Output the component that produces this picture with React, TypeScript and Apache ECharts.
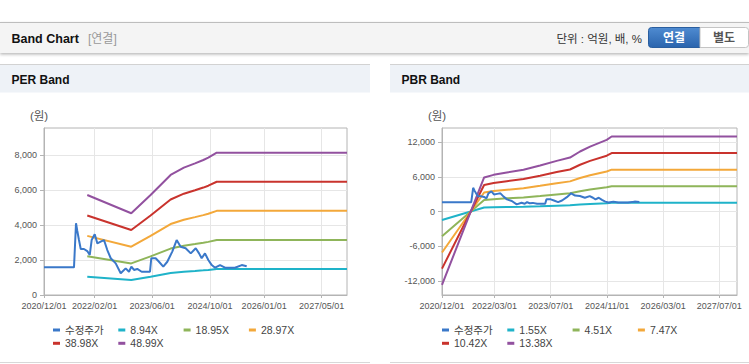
import React, { useEffect, useRef } from 'react';
import * as echarts from 'echarts';

const FONT = "'Liberation Sans', 'Noto Sans CJK KR', sans-serif";

// ---- data ----
const priceDates = [
  '2020-12-01', '2021-08-11', '2021-08-28', '2021-09-08', '2021-09-22', '2021-10-07', '2021-11-03',
  '2021-12-01', '2021-12-22', '2022-01-07', '2022-02-02', '2022-02-24', '2022-03-24', '2022-04-21',
  '2022-05-19', '2022-06-17', '2022-07-29', '2022-09-09', '2022-10-21', '2022-11-18', '2022-12-08',
  '2022-12-30', '2023-01-27', '2023-03-05', '2023-05-14', '2023-05-25', '2023-07-01', '2023-07-29',
  '2023-09-03', '2023-10-07', '2023-11-18', '2023-12-25', '2024-01-28', '2024-03-10', '2024-04-22',
  '2024-06-03', '2024-07-01', '2024-07-23', '2024-08-20', '2024-09-17', '2024-10-16', '2024-11-13',
  '2024-12-25', '2025-02-05', '2025-04-30', '2025-06-26', '2025-08-07',
];
const priceValues = [
  1580, 1580, 4100, 3660, 3140, 2630, 2630,
  2510, 2290, 3140, 3470, 2950, 3050, 3140,
  2570, 2100, 1810, 1240, 1520, 1330, 1620,
  1430, 1490, 1330, 1330, 2100, 2100, 1900,
  1620, 1900, 2480, 3140, 2760, 2670, 2380,
  2670, 2380, 2100, 2380, 2000, 1710, 1560,
  1710, 1560, 1560, 1710, 1640,
];

const perBandDates = [
  '2021-12-01', '2022-12-07', '2023-05-19', '2023-11-04', '2024-02-24',
  '2024-05-28', '2024-08-06', '2024-09-17', '2024-11-27', '2027-12-01',
];
const per894 = [1042, 852, 1042, 1252, 1328, 1373, 1408, 1432, 1484, 1484];
const per1895 = [2210, 1806, 2210, 2653, 2814, 2911, 2985, 3036, 3146, 3146];
const per2897 = [3378, 2761, 3378, 4056, 4302, 4450, 4563, 4641, 4809, 4809];
const per3898 = [4545, 3715, 4545, 5457, 5789, 5987, 6139, 6245, 6471, 6471];
const per4899 = [5712, 4669, 5712, 6859, 7275, 7525, 7716, 7848, 8132, 8132];

const pbrBandDates = [
  '2020-12-01', '2021-12-01', '2022-02-21', '2022-06-16', '2022-11-07', '2023-03-31', '2023-08-22',
  '2023-12-15', '2024-03-11', '2024-06-06', '2024-10-28', '2024-12-10', '2027-12-01',
];
const pbr155 = [-1470, 682, 735, 781, 835, 922, 1015, 1082, 1203, 1302, 1437, 1504, 1504];
const pbr451 = [-4279, 1984, 2138, 2273, 2431, 2683, 2954, 3148, 3500, 3788, 4181, 4375, 4375];
const pbr747 = [-7087, 3287, 3541, 3765, 4026, 4445, 4893, 5214, 5797, 6275, 6925, 7246, 7246];
const pbr1042 = [-9885, 4585, 4939, 5252, 5616, 6200, 6825, 7273, 8086, 8753, 9659, 10107, 10107];
const pbr1338 = [-12694, 5887, 6342, 6744, 7212, 7961, 8764, 9339, 10383, 11239, 12403, 12979, 12979];

const priceName = '수정주가';
const perNames = ['8.94X', '18.95X', '28.97X', '38.98X', '48.99X'];
const pbrNames = ['1.55X', '4.51X', '7.47X', '10.42X', '13.38X'];

const perXTicks = ['2020-12-01', '2022-02-01', '2023-06-01', '2024-10-01', '2026-01-01', '2027-05-01'];
const pbrXTicks = ['2020-12-01', '2022-03-01', '2023-07-01', '2024-11-01', '2026-03-01', '2027-07-01'];
const perYTicks = [0, 2000, 4000, 6000, 8000];
const pbrYTicks = [-12000, -6000, 0, 6000, 12000];
const xStart = '2020-12-01';
const xEnd = '2027-12-01';

const PRICE_COLOR = '#3a78c9';
const BAND_COLORS = ['#1fb3c9', '#8fb55a', '#f3a83a', '#c9332d', '#92519f'];

const ts = (s: string) => {
  const [y, m, d] = s.split('-').map(Number);
  return new Date(y, m - 1, d).getTime();
};
const pad = (n: number) => String(n).padStart(2, '0');
const fmtDate = (v: number) => {
  const d = new Date(v);
  return `${d.getFullYear()}/${pad(d.getMonth() + 1)}/${pad(d.getDate())}`;
};
const fmtNum = (v: number) => Number(v).toLocaleString('en-US');

const mkLine = (name: string, dates: string[], values: number[], color: string, idx: number, z = 2) => ({
  type: 'line',
  name,
  xAxisIndex: idx,
  yAxisIndex: idx,
  data: dates.map((d, i) => [ts(d), values[i]]),
  symbol: 'none',
  showSymbol: false,
  color,
  lineStyle: { color, width: 2 },
  z,
  silent: true,
});

const mkX = (idx: number, ticks: string[]) => ({
  type: 'value',
  gridIndex: idx,
  min: ts(xStart),
  max: ts(xEnd),
  axisLine: { show: true, onZero: false, lineStyle: { color: '#b4b4b4' } },
  axisTick: { show: true, length: 3, lineStyle: { color: '#b4b4b4' }, customValues: ticks.map(ts) },
  axisLabel: {
    customValues: ticks.map(ts),
    formatter: (v: number) => fmtDate(v),
    fontSize: 9,
    color: '#555',
    margin: 6,
    fontFamily: FONT,
    hideOverlap: false,
  },
  splitLine: { show: true, lineStyle: { color: '#e6e6e6', width: 1 } },
});

const mkY = (idx: number, min: number, max: number, ticks: number[]) => ({
  type: 'value',
  gridIndex: idx,
  min,
  max,
  name: '(원)',
  nameLocation: 'end',
  nameGap: 6,
  nameTextStyle: { fontSize: 11.5, color: '#555', fontFamily: FONT, align: 'center', padding: [0, 10, 0, 0] },
  axisLine: { show: true, lineStyle: { color: '#b4b4b4' } },
  axisTick: { show: true, length: 4, lineStyle: { color: '#b4b4b4' }, customValues: ticks },
  axisLabel: {
    customValues: ticks,
    formatter: (v: number) => fmtNum(v),
    fontSize: 9,
    color: '#555',
    margin: 7,
    fontFamily: FONT,
  },
  splitLine: { show: true, lineStyle: { color: '#e6e6e6', width: 1 } },
});

const mkLegend = (left: number, names: string[]) => ({
  left,
  top: 324,
  width: 270,
  padding: 0,
  itemGap: 1.3,
  itemWidth: 7,
  itemHeight: 3,
  icon: 'rect',
  selectedMode: false,
  data: [priceName, ...names],
  textStyle: { fontSize: 10.5, color: '#444', fontFamily: FONT, width: 52, lineHeight: 12 },
});

const txt = (x: number, y: number, text: string, extra: any = {}, z = 5) => ({
  type: 'text',
  x,
  y,
  z,
  silent: true,
  style: {
    text,
    fontSize: 12,
    fontFamily: FONT,
    fill: '#222',
    align: 'left',
    verticalAlign: 'middle',
    ...extra,
  },
});

export default function App() {
  const ref = useRef<HTMLDivElement>(null);
  useEffect(() => {
    if (!ref.current) return;
    const chart = echarts.init(ref.current, null, { renderer: 'svg', width: 749, height: 364 });
    const series: any[] = [];
    [per894, per1895, per2897, per3898, per4899].forEach((vals, i) =>
      series.push(mkLine(perNames[i], perBandDates, vals, BAND_COLORS[i], 0)));
    series.push(mkLine(priceName, priceDates, priceValues, PRICE_COLOR, 0, 3));
    [pbr155, pbr451, pbr747, pbr1042, pbr1338].forEach((vals, i) =>
      series.push(mkLine(pbrNames[i], pbrBandDates, vals, BAND_COLORS[i], 1)));
    series.push(mkLine(priceName, priceDates, priceValues, PRICE_COLOR, 1, 3));

    const option: any = {
      animation: false,
      backgroundColor: '#ffffff',
      textStyle: { fontFamily: FONT },
      grid: [
        { left: 44, top: 128, right: 402, bottom: 69, show: true, borderColor: '#b4b4b4', borderWidth: 1, backgroundColor: 'transparent', outerBoundsMode: 'none' },
        { left: 442, top: 128, right: 12, bottom: 69, show: true, borderColor: '#b4b4b4', borderWidth: 1, backgroundColor: 'transparent', outerBoundsMode: 'none' },
      ],
      xAxis: [mkX(0, perXTicks), mkX(1, pbrXTicks)],
      yAxis: [mkY(0, 0, 9543, perYTicks), mkY(1, -14450, 14450, pbrYTicks)],
      legend: [mkLegend(53, perNames), mkLegend(442, pbrNames)],
      series,
      graphic: [
        {
          type: 'rect', z: -5, silent: true,
          shape: { x: 0, y: 22, width: 749, height: 31 },
          style: { fill: '#f4f4f4', shadowBlur: 3, shadowOffsetY: 1.5, shadowColor: 'rgba(0,0,0,0.28)' },
        },
        { type: 'line', z: -4, silent: true, shape: { x1: 0, y1: 22.5, x2: 749, y2: 22.5 }, style: { stroke: '#bdbdbd', lineWidth: 1 } },
        txt(11.5, 38.5, 'Band Chart', { fontWeight: 'bold', fontSize: 12.5, fill: '#111' }),
        txt(88, 38.5, '[연결]', { fill: '#999', fontSize: 12 }),
        txt(642, 38.5, '단위 : 억원, 배, %', { fill: '#333', fontSize: 11.5, align: 'right' }),
        {
          type: 'rect', z: 4, silent: true,
          shape: { x: 648.5, y: 27.5, width: 51.5, height: 20, r: [3, 0, 0, 3] },
          style: {
            fill: new echarts.graphic.LinearGradient(0, 0, 0, 1, [
              { offset: 0, color: '#4f8bd1' },
              { offset: 1, color: '#2a64ad' },
            ]),
            stroke: '#2a5e9f', lineWidth: 1,
          },
        },
        txt(674, 37.7, '연결', { fill: '#ffffff', fontWeight: 'bold', fontSize: 12, align: 'center' }),
        {
          type: 'rect', z: 4, silent: true,
          shape: { x: 700, y: 27.5, width: 48.5, height: 20, r: [0, 3, 3, 0] },
          style: { fill: '#ffffff', stroke: '#c4c4c4', lineWidth: 1 },
        },
        txt(724, 37.7, '별도', { fill: '#555', fontWeight: 'bold', fontSize: 12, align: 'center' }),
        { type: 'rect', z: -5, silent: true, shape: { x: 0, y: 64, width: 370, height: 28.5 }, style: { fill: '#eef2f7' } },
        { type: 'line', z: -4, silent: true, shape: { x1: 0, y1: 64.5, x2: 370, y2: 64.5 }, style: { stroke: '#d2d2d2', lineWidth: 1 } },
        { type: 'rect', z: -5, silent: true, shape: { x: 390, y: 64, width: 359, height: 28.5 }, style: { fill: '#eef2f7' } },
        { type: 'line', z: -4, silent: true, shape: { x1: 390, y1: 64.5, x2: 749, y2: 64.5 }, style: { stroke: '#d2d2d2', lineWidth: 1 } },
        txt(11.5, 80, 'PER Band', { fontWeight: 'bold', fontSize: 12, fill: '#111' }),
        txt(401.5, 80, 'PBR Band', { fontWeight: 'bold', fontSize: 12, fill: '#111' }),
        { type: 'line', z: -4, silent: true, shape: { x1: 0, y1: 362.5, x2: 370, y2: 362.5 }, style: { stroke: '#d8d8d8', lineWidth: 1 } },
        { type: 'line', z: -4, silent: true, shape: { x1: 390, y1: 362.5, x2: 749, y2: 362.5 }, style: { stroke: '#d8d8d8', lineWidth: 1 } },
      ],
    };
    chart.setOption(option);
    return () => chart.dispose();
  }, []);
  return <div ref={ref} style={{ position: 'fixed', left: 0, top: 0, width: 749, height: 364 }} />;
}
